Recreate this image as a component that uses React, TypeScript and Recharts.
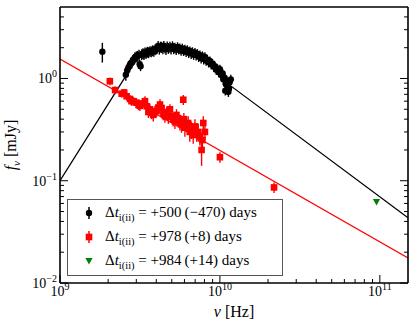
import React from "react";
import {
  ComposedChart,
  Line,
  Scatter,
  XAxis,
  YAxis,
  ErrorBar,
  Legend,
} from "recharts";

const FONT = '"Liberation Serif", "DejaVu Serif", serif';

// ── Data (frequency in GHz, flux in mJy, 1σ error) ───────────────────────────

const EPOCH_500: [number, number, number][] = [
  [1.84, 1.83, 0.4],
  [2.58, 1.09, 0.14], [2.63, 1.2, 0.15], [2.67, 1.27, 0.16], [2.72, 1.33, 0.17],
  [2.76, 1.4, 0.17], [2.81, 1.43, 0.18], [2.86, 1.52, 0.19], [2.9, 1.55, 0.19],
  [2.94, 1.6, 0.2], [3.0, 1.64, 0.2], [3.06, 1.66, 0.2], [3.12, 1.7, 0.21],
  [3.15, 1.38, 0.14], [3.19, 1.32, 0.14], [3.24, 1.72, 0.21], [3.3, 1.76, 0.21],
  [3.35, 1.73, 0.21], [3.4, 1.79, 0.22], [3.46, 1.78, 0.22], [3.52, 1.82, 0.22],
  [3.58, 1.8, 0.22], [3.65, 1.85, 0.22], [3.72, 1.83, 0.22], [3.79, 1.88, 0.23],
  [3.86, 1.86, 0.23], [3.93, 1.92, 0.23], [4.0, 1.96, 0.24], [4.06, 1.99, 0.24],
  [4.11, 2.07, 0.25], [4.18, 1.95, 0.24], [4.25, 2.04, 0.25], [4.32, 2.03, 0.25],
  [4.4, 1.97, 0.24], [4.46, 2.08, 0.25], [4.53, 2.0, 0.24], [4.6, 1.94, 0.24],
  [4.68, 2.05, 0.25], [4.76, 1.98, 0.24], [4.87, 2.03, 0.25], [4.95, 1.96, 0.24],
  [5.05, 2.06, 0.25], [5.14, 1.97, 0.24], [5.23, 2.0, 0.24], [5.33, 1.93, 0.23],
  [5.43, 2.02, 0.24], [5.52, 1.95, 0.23], [5.62, 1.97, 0.23], [5.72, 1.9, 0.23],
  [5.82, 1.96, 0.23], [5.93, 1.88, 0.22], [6.04, 1.92, 0.22], [6.15, 1.84, 0.22],
  [6.26, 1.89, 0.22], [6.38, 1.8, 0.21], [6.49, 1.85, 0.21], [6.61, 1.76, 0.21],
  [6.73, 1.81, 0.21], [6.85, 1.72, 0.2], [6.98, 1.79, 0.2], [7.1, 1.7, 0.2],
  [7.23, 1.74, 0.2], [7.36, 1.64, 0.19], [7.5, 1.69, 0.19], [7.63, 1.58, 0.18],
  [7.78, 1.65, 0.19], [7.92, 1.55, 0.18], [8.06, 1.62, 0.18], [8.2, 1.5, 0.17],
  [8.35, 1.53, 0.17], [8.5, 1.44, 0.16], [8.66, 1.48, 0.16], [8.82, 1.38, 0.15],
  [8.98, 1.4, 0.15], [9.14, 1.3, 0.14], [9.31, 1.32, 0.14], [9.48, 1.22, 0.13],
  [9.65, 1.25, 0.13], [9.83, 1.15, 0.12], [10.0, 1.23, 0.13], [10.2, 1.08, 0.12],
  [10.4, 1.12, 0.12], [10.5, 0.98, 0.11], [10.7, 1.02, 0.11], [10.9, 0.88, 0.1],
  [11.0, 0.94, 0.11], [11.1, 0.78, 0.09], [11.2, 0.86, 0.1], [11.4, 0.8, 0.09],
  [11.5, 0.92, 0.11], [11.7, 0.98, 0.11], [11.3, 0.74, 0.08], [10.8, 0.76, 0.08],
];

const EPOCH_978: [number, number, number][] = [
  [2.05, 0.94, 0.08], [2.21, 0.77, 0.07], [2.43, 0.71, 0.06], [2.52, 0.73, 0.06],
  [2.61, 0.67, 0.06], [2.74, 0.63, 0.06], [2.8, 0.6, 0.06], [2.87, 0.6, 0.06],
  [3.01, 0.58, 0.06], [3.1, 0.55, 0.06], [3.16, 0.54, 0.06], [3.28, 0.57, 0.06],
  [3.4, 0.6, 0.07], [3.49, 0.535, 0.06], [3.57, 0.47, 0.06], [3.65, 0.5, 0.06],
  [3.74, 0.46, 0.06], [3.83, 0.44, 0.06], [3.93, 0.48, 0.06], [4.02, 0.48, 0.06],
  [4.12, 0.52, 0.06], [4.22, 0.556, 0.07], [4.32, 0.515, 0.06], [4.43, 0.45, 0.06],
  [4.53, 0.43, 0.06], [4.65, 0.47, 0.06], [4.76, 0.42, 0.06], [4.87, 0.5, 0.06],
  [4.98, 0.43, 0.06], [5.1, 0.4, 0.06], [5.23, 0.38, 0.06], [5.35, 0.44, 0.06],
  [5.48, 0.41, 0.06], [5.62, 0.37, 0.06], [5.75, 0.355, 0.06], [5.9, 0.62, 0.07],
  [5.95, 0.4, 0.06], [6.04, 0.33, 0.06], [6.18, 0.36, 0.06], [6.33, 0.367, 0.06],
  [6.48, 0.3, 0.06], [6.64, 0.316, 0.06], [6.81, 0.28, 0.05], [6.98, 0.34, 0.06],
  [7.15, 0.29, 0.05], [7.32, 0.3, 0.06], [7.5, 0.27, 0.05], [7.68, 0.2, 0.06],
  [7.77, 0.25, 0.05], [7.87, 0.367, 0.06], [8.06, 0.3, 0.05],
  [10.0, 0.17, 0.02], [21.8, 0.086, 0.01],
];

const EPOCH_984: [number, number][] = [[95.3, 0.062]];

// model curves (GHz, mJy); the peak part runs beneath the data
const MODEL_500: [number, number][] = [
  [1, 0.1], [2.6, 1.08], [3.0, 1.55], [3.5, 1.76], [4.5, 1.98], [6, 1.86],
  [8, 1.52], [10, 1.15], [11.3, 0.88], [150, 0.0435],
];
const MODEL_978: [number, number][] = [[1, 1.55], [150, 0.0176]];

const LEGEND_LABELS = ["+500\u2009(\u2212470)", "+978\u2009(+8)", "+984\u2009(+14)"];

const X_DOMAIN = [1e9, 1.5e11];
const Y_DOMAIN = [0.01, 5];
const X_TICKS = [9, 10].flatMap((d) => [1, 2, 3, 4, 5, 6, 7, 8, 9].map((m) => m * 10 ** d)).concat([1e11]);
const Y_TICKS = [-2, -1].flatMap((d) => [1, 2, 3, 4, 5, 6, 7, 8, 9].map((m) => m * 10 ** d)).concat([1, 2, 3, 4]);

const toPts = (rows: [number, number, number][]) =>
  rows.map(([nu, f, err]) => ({ nu: nu * 1e9, f, err }));
const black = toPts(EPOCH_500);
const red = toPts(EPOCH_978);
const green = EPOCH_984.map(([nu, f]) => ({ nu: nu * 1e9, f }));
const blackLine = MODEL_500.map(([nu, f]) => ({ nu: nu * 1e9, f }));
const redLine = MODEL_978.map(([nu, f]) => ({ nu: nu * 1e9, f }));

// ── Ticks ─────────────────────────────────────────────────────────────────────

function decade(v: number) {
  const e = Math.round(Math.log10(v));
  return { e, major: Math.abs(Math.log10(v) - e) < 1e-6 };
}

const exp = (e: number) => (e < 0 ? `\u2212${-e}` : `${e}`);

function BottomTick({ x, y, payload }: any) {
  const { e, major } = decade(payload.value);
  return (
    <g>
      <line x1={x} x2={x} y1={y} y2={y - (major ? 8 : 4)} stroke="#000" strokeWidth={1} />
      {major && (
        <text x={x} y={y + 13} textAnchor="middle" fontFamily={FONT} fontSize={14} fill="#000">
          10<tspan dy={-6} fontSize={10}>{exp(e)}</tspan>
        </text>
      )}
    </g>
  );
}

function TopTick({ x, y, payload }: any) {
  const { major } = decade(payload.value);
  return <line x1={x} x2={x} y1={y} y2={y + (major ? 8 : 4)} stroke="#000" strokeWidth={1} />;
}

function LeftTick({ x, y, payload }: any) {
  const { e, major } = decade(payload.value);
  return (
    <g>
      <line x1={x} x2={x + (major ? 8 : 4)} y1={y} y2={y} stroke="#000" strokeWidth={1} />
      {major && (
        <text x={x - 3} y={y + 5} textAnchor="end" fontFamily={FONT} fontSize={14} fill="#000">
          10<tspan dy={-6} fontSize={10}>{exp(e)}</tspan>
        </text>
      )}
    </g>
  );
}

function RightTick({ x, y, payload }: any) {
  const { major } = decade(payload.value);
  return <line x1={x} x2={x - (major ? 8 : 4)} y1={y} y2={y} stroke="#000" strokeWidth={1} />;
}

// ── Axis titles ───────────────────────────────────────────────────────────────

function XTitle({ viewBox }: any) {
  return (
    <text x={viewBox.x + viewBox.width / 2} y={viewBox.y + 34} textAnchor="middle" fontFamily={FONT} fontSize={16} fill="#000">
      <tspan fontStyle="italic">ν</tspan> [Hz]
    </text>
  );
}

function YTitle({ viewBox }: any) {
  const cx = viewBox.x + 16;
  const cy = viewBox.y + viewBox.height / 2;
  return (
    <text transform={`translate(${cx},${cy}) rotate(-90)`} textAnchor="middle" fontFamily={FONT} fontSize={16} fill="#000">
      <tspan fontStyle="italic">f</tspan>
      <tspan fontStyle="italic" fontSize={11} dy={4}>ν</tspan>
      <tspan dy={-4}> [mJy]</tspan>
    </text>
  );
}

// ── Markers ───────────────────────────────────────────────────────────────────

const Dot = ({ cx, cy }: any) => <circle cx={cx} cy={cy} r={3.2} fill="#000" />;
const Square = ({ cx, cy }: any) => <rect x={cx - 3.3} y={cy - 3.3} width={6.6} height={6.6} fill="#ff0000" />;
const Tri = ({ cx, cy }: any) => (
  <path d={`M${cx - 3.6},${cy - 3} L${cx + 3.6},${cy - 3} L${cx},${cy + 3.6} Z`} fill="#008000" />
);

function LegendMark({ i }: { i: number }) {
  return (
    <svg width={37} height={24} style={{ display: "block", flex: "none" }}>
      {i < 2 && <line x1={21} x2={21} y1={6} y2={18} stroke={i === 0 ? "#000" : "#ff0000"} strokeWidth={1.5} />}
      {i === 0 && <Dot cx={21} cy={12} />}
      {i === 1 && <Square cx={21} cy={12} />}
      {i === 2 && <Tri cx={21} cy={12} />}
    </svg>
  );
}

function LegendBox() {
  return (
    <div
      style={{
        boxSizing: "border-box",
        width: 216,
        height: 77,
        border: "1px solid #555",
        background: "#fff",
        fontFamily: FONT,
        fontSize: 15,
        color: "#000",
        paddingTop: 1,
      }}
    >
      {LEGEND_LABELS.map((lbl, i) => (
        <div key={lbl} style={{ display: "flex", alignItems: "center", height: 24, lineHeight: "24px", whiteSpace: "nowrap" }}>
          <LegendMark i={i} />
          <span>
            Δ<i>t</i>
            <span style={{ fontSize: "0.7em", position: "relative", top: "0.35em" }}>i(ii)</span>
            {" = "}
            {lbl} days
          </span>
        </div>
      ))}
    </div>
  );
}

// ── Chart ─────────────────────────────────────────────────────────────────────

export default function App() {
  return (
    <div style={{ position: "absolute", left: 0, top: 0, width: 415, height: 329, background: "#fff" }}>
      <style>{"body{margin:0}"}</style>
      <ComposedChart width={415} height={329} margin={{ top: 6, right: 6, bottom: 0, left: 0 }}>
        <XAxis
          dataKey="nu"
          type="number"
          scale="log"
          domain={X_DOMAIN}
          allowDataOverflow
          ticks={X_TICKS}
          interval={0}
          height={46}
          tickSize={0}
          tickMargin={0}
          tickLine={false}
          axisLine={{ stroke: "#000", strokeWidth: 1.6 }}
          tick={(p: any) => <BottomTick {...p} />}
          label={<XTitle />}
        />
        <XAxis
          xAxisId="top"
          orientation="top"
          type="number"
          scale="log"
          domain={X_DOMAIN}
          allowDataOverflow
          ticks={X_TICKS}
          interval={0}
          height={1}
          tickSize={0}
          tickMargin={0}
          tickLine={false}
          axisLine={{ stroke: "#000", strokeWidth: 1.6 }}
          tick={(p: any) => <TopTick {...p} />}
        />
        <YAxis
          dataKey="f"
          type="number"
          scale="log"
          domain={Y_DOMAIN}
          allowDataOverflow
          ticks={Y_TICKS}
          interval={0}
          width={60}
          tickSize={0}
          tickMargin={0}
          tickLine={false}
          axisLine={{ stroke: "#000", strokeWidth: 1.6 }}
          tick={(p: any) => <LeftTick {...p} />}
          label={<YTitle />}
        />
        <YAxis
          yAxisId="right"
          orientation="right"
          type="number"
          scale="log"
          domain={Y_DOMAIN}
          allowDataOverflow
          ticks={Y_TICKS}
          interval={0}
          width={1}
          tickSize={0}
          tickMargin={0}
          tickLine={false}
          axisLine={{ stroke: "#000", strokeWidth: 1.6 }}
          tick={(p: any) => <RightTick {...p} />}
        />
        <Line data={blackLine} dataKey="f" type="linear" stroke="#000" strokeWidth={1.3} dot={false} activeDot={false} isAnimationActive={false} />
        <Line data={redLine} dataKey="f" type="linear" stroke="#ff0000" strokeWidth={1.3} dot={false} activeDot={false} isAnimationActive={false} />
        <Scatter data={black} dataKey="f" shape={<Dot />} isAnimationActive={false}>
          <ErrorBar dataKey="err" direction="y" width={0} stroke="#000" strokeWidth={1.4} />
        </Scatter>
        <Scatter data={red} dataKey="f" shape={<Square />} isAnimationActive={false}>
          <ErrorBar dataKey="err" direction="y" width={0} stroke="#ff0000" strokeWidth={1.4} />
        </Scatter>
        <Scatter data={green} dataKey="f" shape={<Tri />} isAnimationActive={false} />
        <Legend
          layout="horizontal"
          verticalAlign="middle"
          align="center"
          width={216}
          wrapperStyle={{ left: 67, top: 199, width: 216 }}
          content={() => <LegendBox />}
        />
      </ComposedChart>
    </div>
  );
}
